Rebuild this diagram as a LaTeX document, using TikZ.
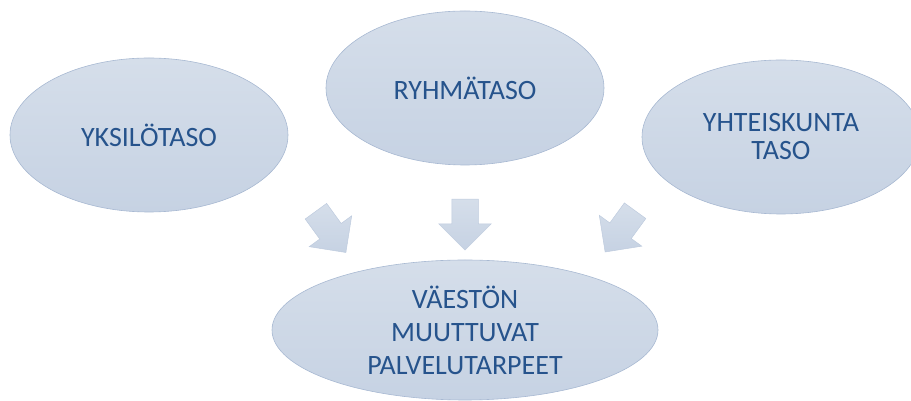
\documentclass[tikz,border=0pt]{standalone}
\usepackage{fontspec}
\setmainfont{Carlito}
\usepackage{tikz}
\usetikzlibrary{shapes,arrows,positioning}

\definecolor{tasotext}{RGB}{38,83,140}
\definecolor{tasoline}{RGB}{168,185,210}
\definecolor{tasotop}{RGB}{213,222,234}
\definecolor{tasobottom}{RGB}{198,210,227}
\definecolor{nuoliline}{RGB}{190,203,222}

\tikzset{
  taso/.style={ellipse, draw=tasoline, line width=0.6pt,
    top color=tasotop, bottom color=tasobottom, text=tasotext,
    inner sep=0pt, minimum width=278pt, minimum height=154pt,
    align=center, font=\fontsize{28}{28}\selectfont},
  nuoli/.style={single arrow, draw=nuoliline, line width=0.5pt,
    top color=tasotop, bottom color=tasobottom,
    inner xsep=0pt, inner ysep=13pt, minimum height=51pt,
    single arrow head extend=13pt}
}

\begin{document}
\begin{tikzpicture}[x=1pt, y=1pt]
\useasboundingbox (0,0) rectangle (911,401);
\clip (0,0) rectangle (911,401);

\coordinate (p_yksilo) at (149, 266);
\coordinate (p_ryhma) at (465, 313);
\coordinate (p_yhteis) at (781, 264);
\coordinate (p_vaesto) at (465, 71);

% ellipsit
\node [taso] (yksilo) at (p_yksilo) {YKSILÖTASO};
\node [taso] (ryhma) at (p_ryhma) {RYHMÄTASO};
\node [taso] (yhteis) at (p_yhteis) {YHTEISKUNTA\\TASO};
\node [taso, minimum width=386pt, minimum height=140pt,
  font=\fontsize{28}{33}\selectfont] (vaesto) at (p_vaesto)
  {VÄESTÖN\\MUUTTUVAT\\PALVELUTARPEET};

% nuolet
\node [nuoli, rotate=-54] (n_yksilo) at (327, 174.5) {};
\node [nuoli, rotate=-90] (n_ryhma) at (465, 183) {};
\node [nuoli, rotate=-126] (n_yhteis) at (624, 175) {};
\end{tikzpicture}
\end{document}
